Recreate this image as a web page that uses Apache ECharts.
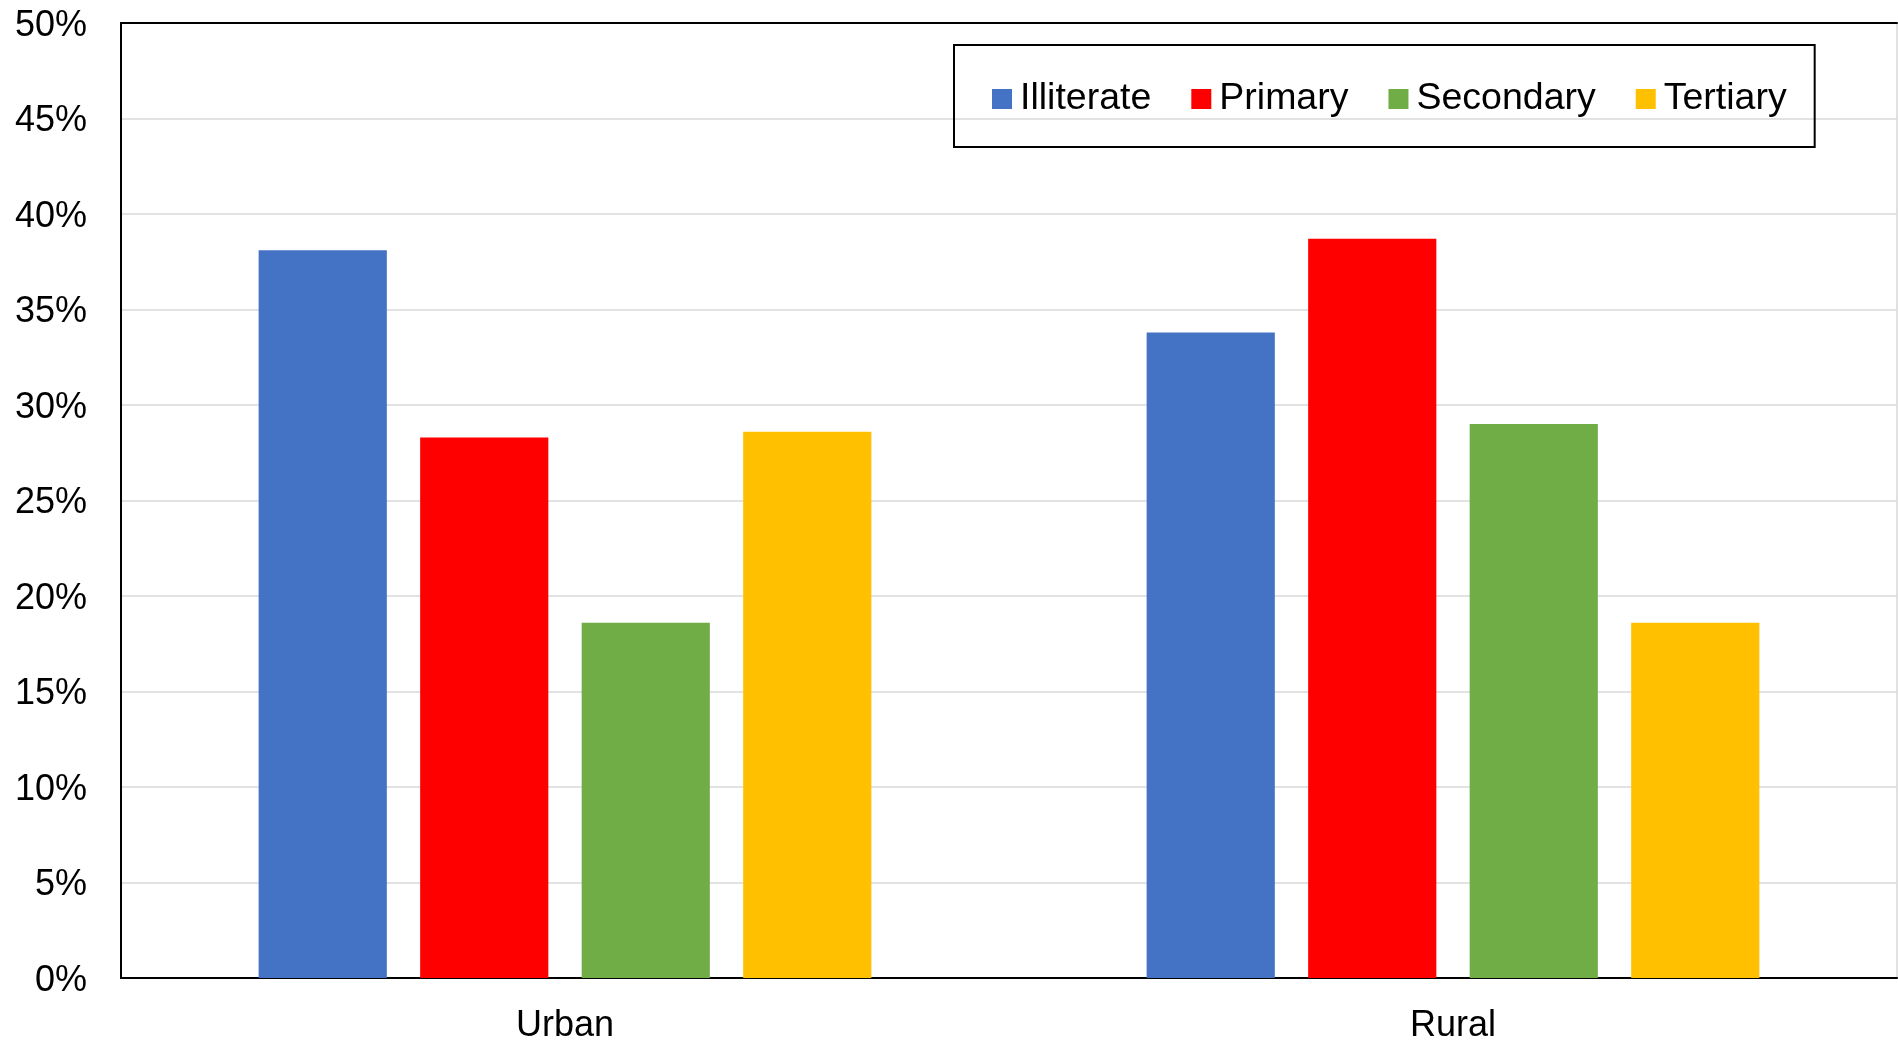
<!DOCTYPE html>
<html>
<head>
<meta charset="utf-8">
<script src="https://cdn.jsdelivr.net/npm/echarts@6/dist/echarts.min.js"></script>
<style>
  html, body { margin: 0; padding: 0; background: #fff; }
  #EducationChart { width: 1898px; height: 1041px; }
</style>
</head>
<body>
<div id="EducationChart"></div>
<script>
// categories and series values (percent)
const categories = ['Urban', 'Rural'];
const seriesNames = ['Illiterate', 'Primary', 'Secondary', 'Tertiary'];
const illiterate = [38.1, 33.8];
const primary = [28.3, 38.7];
const secondary = [18.6, 29.0];
const tertiary = [28.6, 18.6];
const colors = ['#4472C4', '#FF0000', '#70AD47', '#FFC000'];

const font = '"Liberation Sans", Arial, sans-serif';
const values = [illiterate, primary, secondary, tertiary];

const myChart = echarts.init(document.getElementById('EducationChart'));

const option = {
  animation: false,
  textStyle: { fontFamily: font, color: '#000' },
  legend: {
    left: 954,
    top: 45,
    itemWidth: 20,
    itemHeight: 20,
    itemGap: 40,
    padding: [35, 28, 29, 38],
    borderColor: '#000',
    borderWidth: 2,
    icon: 'rect',
    textStyle: { fontSize: 37.5, fontFamily: font, color: '#000', padding: [0, 0, 0, 3] },
    data: seriesNames
  },
  grid: {
    left: 121,
    right: 1,
    top: 23,
    bottom: 63,
    outerBoundsMode: 'none'
  },
  xAxis: [
    {
      type: 'category',
      data: categories,
      axisTick: { show: false },
      axisLine: { lineStyle: { color: '#000', width: 2 } },
      axisLabel: { fontSize: 36, fontFamily: font, color: '#000', margin: 30 }
    },
    {
      type: 'category',
      position: 'top',
      data: categories,
      z: 10,
      axisTick: { show: false },
      axisLabel: { show: false },
      axisLine: { onZero: false, lineStyle: { color: '#000', width: 2 } }
    }
  ],
  yAxis: [
    {
      type: 'value',
      min: 0,
      max: 50,
      interval: 5,
      axisLine: { show: true, lineStyle: { color: '#000', width: 2 } },
      axisTick: { show: false },
      axisLabel: {
        margin: 34,
        formatter: '{p|{value}%}',
        rich: {
          p: { fontSize: 36, fontFamily: font, color: '#000', padding: [6, 0, 0, 0] }
        }
      },
      splitLine: { showMaxLine: false, lineStyle: { color: '#d9d9d9', width: 1.5 } }
    },
    {
      type: 'value',
      position: 'right',
      min: 0,
      max: 50,
      interval: 5,
      axisLine: { show: true, lineStyle: { color: '#d9d9d9', width: 1.5 } },
      axisTick: { show: false },
      axisLabel: { show: false },
      splitLine: { show: false }
    }
  ],
  series: seriesNames.map((name, i) => ({
    name: name,
    type: 'bar',
    data: values[i],
    itemStyle: { color: colors[i] },
    barGap: '26%',
    barCategoryGap: '31%'
  }))
};

myChart.setOption(option);
</script>
</body>
</html>
